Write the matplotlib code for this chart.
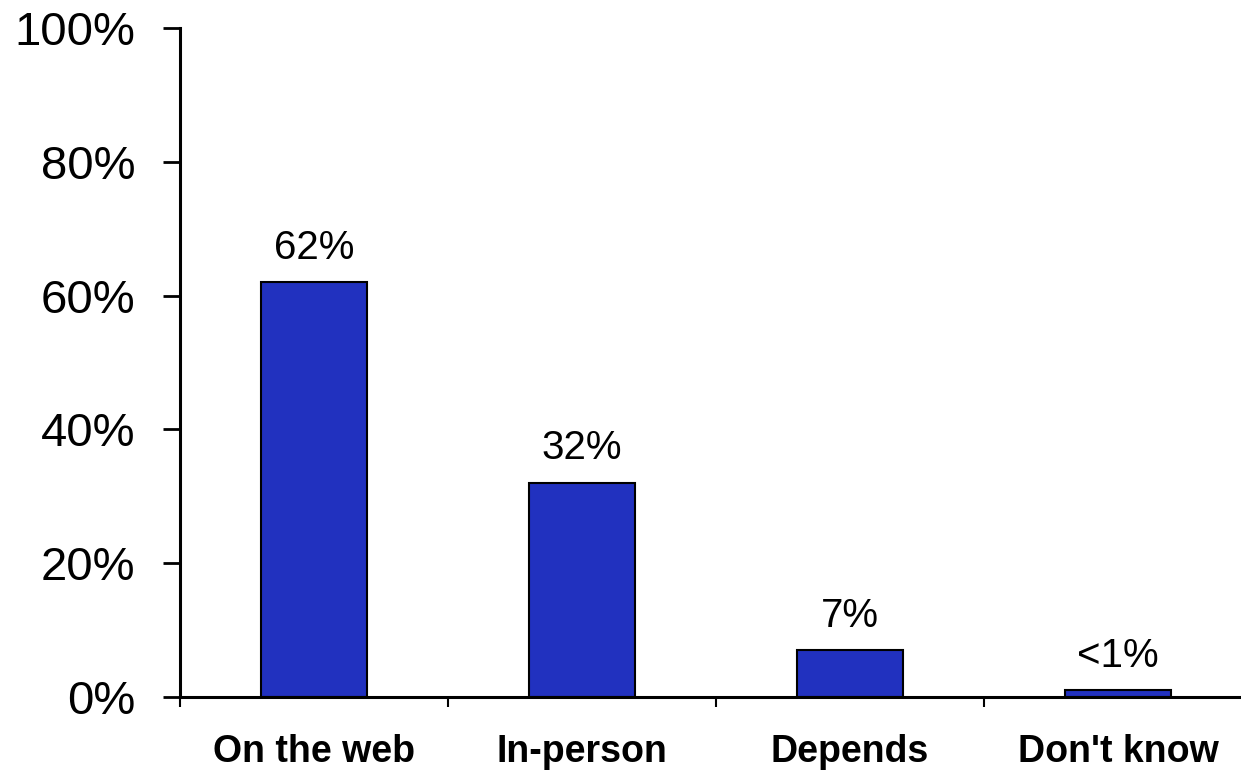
import matplotlib
matplotlib.use('Agg')
import matplotlib.pyplot as plt
import numpy as np

# survey answers
categories = ['On the web', 'In-person', 'Depends', "Don't know"]
values = [62, 32, 7, 1]
value_labels = ['62%', '32%', '7%', '<1%']
yticks = [0, 20, 40, 60, 80, 100]

plt.rcParams['font.family'] = ['Liberation Sans', 'DejaVu Sans']

fig = plt.figure(figsize=(12.41, 7.72), dpi=100)
ax = fig.add_axes([180/1241, 1-697/772, 1-180/1241, (697-28)/772])

x = np.arange(len(categories))
bars = ax.bar(x, values, width=0.395, color='#2131BF', edgecolor='black', linewidth=1.5, zorder=2)

#value labels above the bars
for b, lab in zip(bars, value_labels):
    ax.annotate(lab, (b.get_x()+b.get_width()/2, b.get_height()),
                xytext=(0, 17), textcoords='offset points',
                ha='center', va='baseline', fontsize=29)

ax.set_yticks(yticks)
ax.set_yticklabels([f'{t}%' for t in yticks], fontsize=34)
ax.tick_params(axis='y', length=12, width=2, direction='out', pad=20)

ax.set_xticks(x)
ax.set_xticklabels(categories, fontsize=27, fontweight='bold')
ax.set_xticks(np.arange(-0.5, len(categories), 1), minor=True)
ax.tick_params(axis='x', which='major', length=0, pad=27)
ax.tick_params(axis='x', which='minor', length=7, width=1.5, direction='out')

#set limits after the ticks so they don't get expanded
ax.set_ylim(0, 100)
ax.set_xlim(-0.5, -0.5+1061/268)

for s in ['top', 'right']:
    ax.spines[s].set_visible(False)
for s in ['left', 'bottom']:
    ax.spines[s].set_linewidth(2.2)

fig.savefig('out.png', dpi=100)
